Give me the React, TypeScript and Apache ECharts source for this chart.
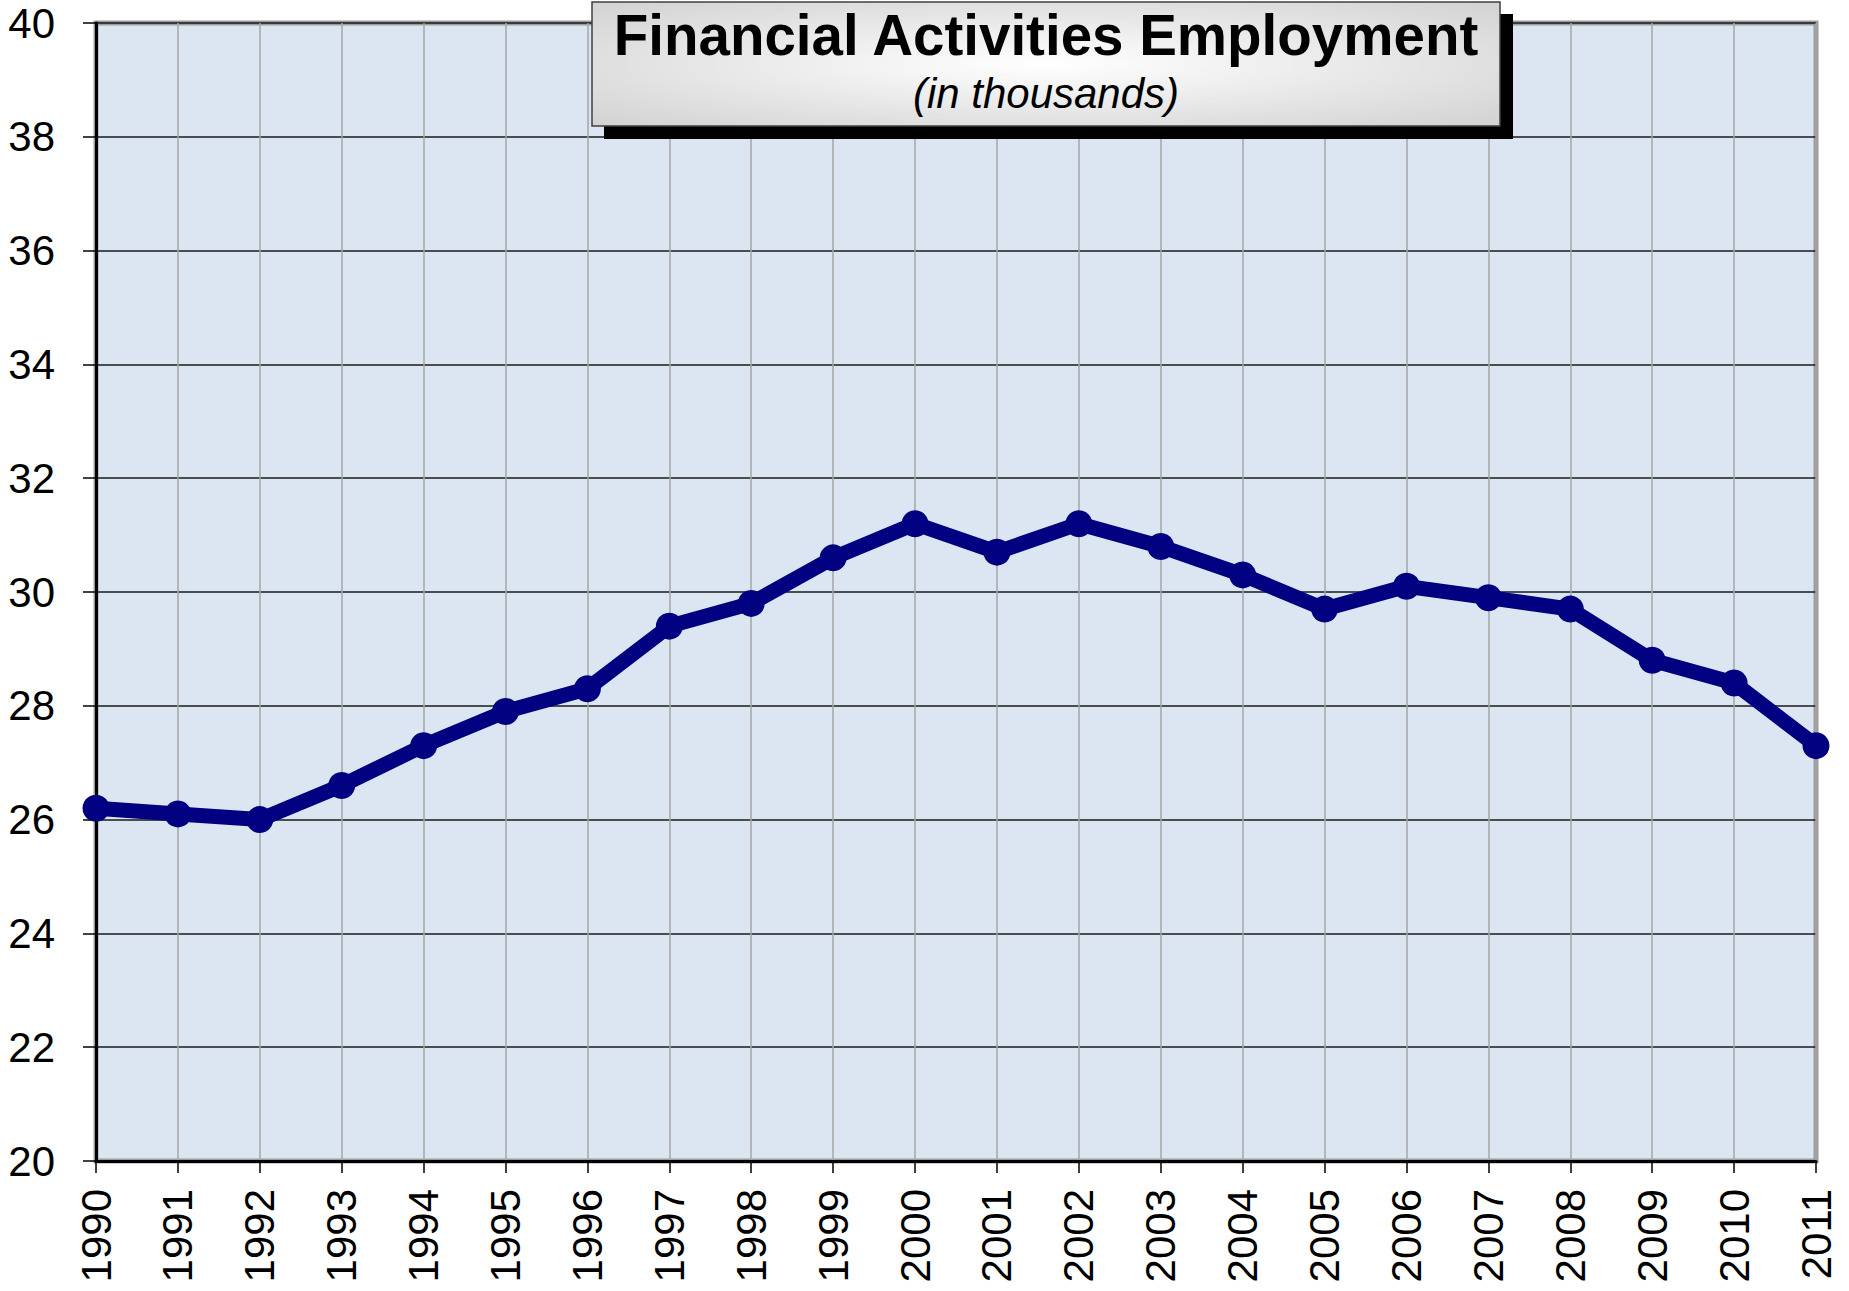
import React, { useEffect, useRef } from "react";
import * as echarts from "echarts";

const years = ["1990","1991","1992","1993","1994","1995","1996","1997","1998","1999","2000","2001","2002","2003","2004","2005","2006","2007","2008","2009","2010","2011"];
const employment = [26.2,26.1,26.0,26.6,27.3,27.9,28.3,29.4,29.8,30.6,31.2,30.7,31.2,30.8,30.3,29.7,30.1,29.9,29.7,28.8,28.4,27.3];
const titleText = "Financial Activities Employment";
const subtitleText = "(in thousands)";
const yMin = 20;
const yMax = 40;
const yStep = 2;

export default function App() {
  const ref = useRef<HTMLDivElement>(null);
  useEffect(() => {
    if (!ref.current) return;
    const chart = echarts.init(ref.current, null, { renderer: "svg" });
    const font = "'Liberation Sans', Arial, sans-serif";
    chart.setOption({
      animation: false,
      backgroundColor: "#ffffff",
      grid: {
        left: 96,
        right: 33,
        top: 23,
        bottom: 130,
        show: true,
        backgroundColor: "#dce6f2",
        borderColor: "#9c9c9c",
        borderWidth: 5,
      },
      xAxis: {
        type: "category",
        data: years,
        boundaryGap: false,
        axisLine: { show: true, lineStyle: { color: "#000", width: 3 } },
        axisTick: { show: true, length: 12, lineStyle: { color: "#000", width: 1.5 } },
        axisLabel: { rotate: 90, margin: 28, fontSize: 42, color: "#000", fontFamily: font },
        splitLine: { show: true, lineStyle: { color: "#a6a6a6", width: 1.5 } },
      },
      yAxis: {
        type: "value",
        min: yMin,
        max: yMax,
        interval: yStep,
        axisLine: { show: true, lineStyle: { color: "#000", width: 3 } },
        axisTick: { show: true, length: 13, lineStyle: { color: "#000", width: 1.5 } },
        axisLabel: { margin: 41, fontSize: 42, color: "#000", fontFamily: font },
        splitLine: { show: true, lineStyle: { color: "#1a1a1a", width: 1.5 } },
      },
      series: [
        {
          type: "line",
          data: employment,
          symbol: "circle",
          symbolSize: 27,
          lineStyle: { color: "#000080", width: 15 },
          itemStyle: { color: "#000080" },
          z: 5,
        },
      ],
      graphic: [
        {
          type: "rect",
          shape: { x: 604, y: 14, width: 909, height: 125 },
          style: { fill: "#000" },
          z: 100,
        },
        {
          type: "rect",
          shape: { x: 592, y: 2, width: 908, height: 124 },
          style: {
            fill: {
              type: "radial",
              x: 0.5,
              y: 0.5,
              r: 0.75,
              colorStops: [
                { offset: 0, color: "#ffffff" },
                { offset: 1, color: "#cfcfcf" },
              ],
            },
            stroke: "#404040",
            lineWidth: 1.5,
          },
          z: 101,
        },
        {
          type: "text",
          x: 1046,
          y: 35,
          style: {
            text: titleText,
            font: "bold 56.5px 'Liberation Sans', Arial, sans-serif",
            fill: "#000",
            align: "center",
            verticalAlign: "middle",
          },
          z: 102,
        },
        {
          type: "text",
          x: 1046,
          y: 93,
          style: {
            text: subtitleText,
            font: "italic 42px 'Liberation Sans', Arial, sans-serif",
            fill: "#000",
            align: "center",
            verticalAlign: "middle",
          },
          z: 102,
        },
      ],
    });
    return () => chart.dispose();
  }, []);
  return (
    <div
      ref={ref}
      style={{ position: "absolute", left: 0, top: 0, width: 1849, height: 1291 }}
    />
  );
}
